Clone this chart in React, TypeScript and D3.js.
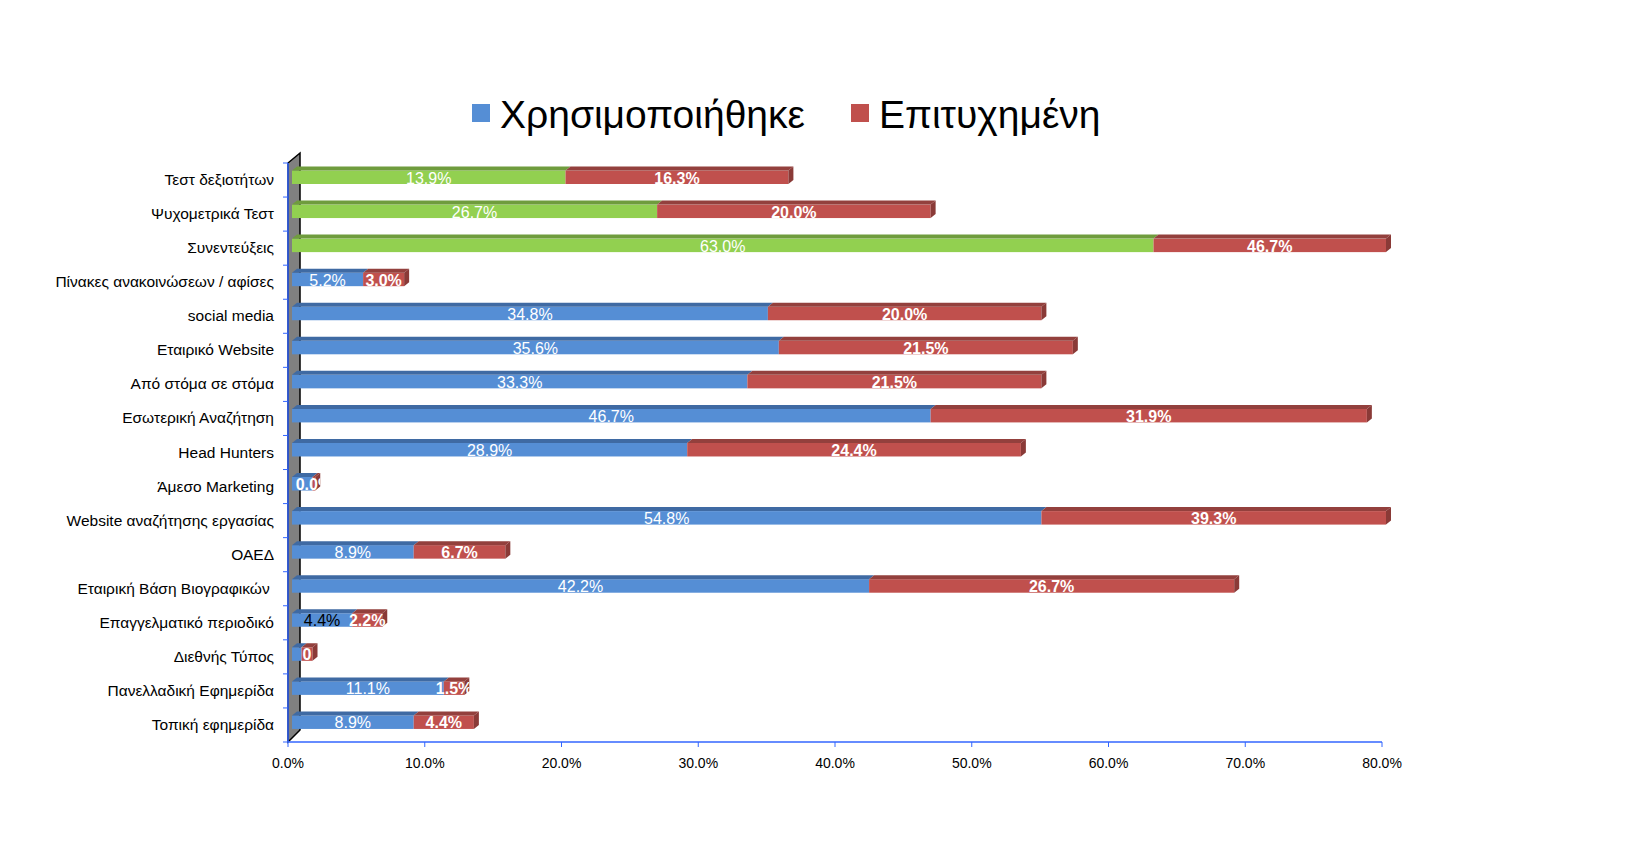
import React from "react";
import * as d3 from "d3";

const width = 1633;
const height = 851;

const categories = [
  "Τεστ δεξιοτήτων",
  "Ψυχομετρικά Τεστ",
  "Συνεντεύξεις",
  "Πίνακες ανακοινώσεων / αφίσες",
  "social media",
  "Εταιρικό Website",
  "Από στόμα σε στόμα",
  "Εσωτερική Αναζήτηση",
  "Head Hunters",
  "Άμεσο Marketing",
  "Website αναζήτησης εργασίας",
  "ΟΑΕΔ",
  "Εταιρική Βάση Βιογραφικών ",
  "Επαγγελματικό περιοδικό",
  "Διεθνής Τύπος",
  "Πανελλαδική Εφημερίδα",
  "Τοπική εφημερίδα",
];

// bar lengths as drawn
const usedValues = [20.0, 26.7, 63.0, 5.2, 34.8, 35.6, 33.3, 46.7, 28.9, 1.5, 54.8, 8.9, 42.2, 4.4, 0.7, 11.1, 8.9];
const successValues = [16.3, 20.0, 46.7, 3.0, 20.0, 21.5, 21.5, 31.9, 24.4, 0.2, 39.3, 6.7, 26.7, 2.2, 0.8, 1.5, 4.4];

// data labels as printed
const usedLabels = ["13.9%", "26.7%", "63.0%", "5.2%", "34.8%", "35.6%", "33.3%", "46.7%", "28.9%", "", "54.8%", "8.9%", "42.2%", "4.4%", "", "11.1%", "8.9%"];
const successLabels = ["16.3%", "20.0%", "46.7%", "3.0%", "20.0%", "21.5%", "21.5%", "31.9%", "24.4%", "0.0%", "39.3%", "6.7%", "26.7%", "2.2%", "0", "1.5%", "4.4%"];

const greenRows = ["Τεστ δεξιοτήτων", "Ψυχομετρικά Τεστ", "Συνεντεύξεις"];
const darkLabelRows = ["Επαγγελματικό περιοδικό"];

const xTicks = [0, 10, 20, 30, 40, 50, 60, 70, 80];
const seriesNames = ["Χρησιμοποιήθηκε", "Επιτυχημένη"];

const colors = {
  blue: { front: "#558ed5", top: "#3f6aa3", side: "#3a5f92" },
  green: { front: "#92d050", top: "#6f9c3d", side: "#5f8a34" },
  red: { front: "#c0504d", top: "#93403d", side: "#8a3a37" },
};

const font = "'Liberation Sans', Arial, sans-serif";
const depthX = 5;
const depthY = 4;
const shift = 4;

const App = () => {
  const xScale = d3.scaleLinear().domain([0, 80]).range([288, 1382]);
  const yScale = d3.scaleBand().domain(categories).range([163, 742]).padding(0);
  const bw = yScale.bandwidth();
  const bx = (v) => xScale(Math.min(v, 80)) + shift;

  const face = (x0, x1, top, bottom, c) => (
    <>
      <rect x={x0} y={top} width={Math.max(0, x1 - x0)} height={bottom - top} fill={c.front} />
      <polygon
        points={`${x0},${top} ${x0 + depthX},${top - depthY} ${x1 + depthX},${top - depthY} ${x1},${top}`}
        fill={c.top}
      />
    </>
  );

  return (
    <svg width={width} height={height} style={{ position: "absolute", left: 0, top: 0 }}>
      <rect width={width} height={height} fill="#fff" />

      {/* legend */}
      <g fontFamily={font} fontSize={39}>
        <rect x={472} y={104} width={18} height={18} fill={colors.blue.front} />
        <text x={500} y={128} fill="#000">{seriesNames[0]}</text>
        <rect x={851} y={104} width={18} height={18} fill={colors.red.front} />
        <text x={879} y={128} fill="#000">{seriesNames[1]}</text>
      </g>

      {/* side wall */}
      <polygon
        points={`${xScale(0)},${yScale.range()[0]} ${xScale(0) + 12},${yScale.range()[0] - 10} ${xScale(0) + 12},${yScale.range()[1] - 12} ${xScale(0)},${yScale.range()[1]}`}
        fill="#808080"
        stroke="#000"
        strokeWidth={1.5}
      />

      {/* x axis */}
      <line x1={xScale(0)} x2={xScale(80)} y1={742} y2={742} stroke="#3366ff" strokeWidth={1.5} />
      {xTicks.map((t) => (
        <g key={t}>
          <line x1={xScale(t)} x2={xScale(t)} y1={742} y2={747} stroke="#3366ff" />
          <text x={xScale(t)} y={768} textAnchor="middle" fontFamily={font} fontSize={14} fill="#000">
            {d3.format(".1f")(t)}%
          </text>
        </g>
      ))}

      {/* y axis */}
      <line x1={xScale(0)} x2={xScale(0)} y1={163} y2={742} stroke="#3366ff" strokeWidth={1.5} />
      {d3.range(categories.length + 1).map((i) => (
        <line key={i} x1={xScale(0) - 5} x2={xScale(0)} y1={163 + i * bw} y2={163 + i * bw} stroke="#3366ff" />
      ))}
      {categories.map((c) => (
        <text
          key={c}
          x={274}
          y={yScale(c) + bw / 2 + 5}
          textAnchor="end"
          fontFamily={font}
          fontSize={15.5}
          fill="#000"
          style={{ whiteSpace: "pre" }}
        >
          {c}
        </text>
      ))}

      <defs>
        {categories.map((c, i) => {
          const top = yScale(c) + 7.5;
          const bottom = yScale(c) + 21;
          const end = bx(usedValues[i] + successValues[i]);
          return (
            <clipPath id={`row-${i}`} key={c}>
              <rect x={bx(0)} y={top} width={end - bx(0) + depthX} height={bottom - top + 0.5} />
            </clipPath>
          );
        })}
      </defs>

      {/* bars */}
      {categories.map((c, i) => {
        const top = yScale(c) + 7.5;
        const bottom = yScale(c) + 21;
        const c1 = greenRows.includes(c) ? colors.green : colors.blue;
        const x0 = bx(0);
        const x1 = bx(usedValues[i]);
        const x2 = bx(usedValues[i] + successValues[i]);
        const dark = darkLabelRows.includes(c);
        return (
          <g key={c}>
            {face(x0, x1, top, bottom, c1)}
            {face(x1, x2, top, bottom, colors.red)}
            <polygon
              points={`${x2},${top} ${x2 + depthX},${top - depthY} ${x2 + depthX},${bottom - depthY} ${x2},${bottom}`}
              fill={colors.red.side}
            />
            <g clipPath={`url(#row-${i})`} fontFamily={font} fontSize={16} textAnchor="middle">
              <text x={(x0 + x1) / 2} y={yScale(c) + 20.5} fill={dark ? "#000" : "#fff"}>
                {usedLabels[i]}
              </text>
              <text x={(x1 + x2) / 2} y={yScale(c) + 20.5} fill="#fff" fontWeight="bold">
                {successLabels[i]}
              </text>
            </g>
          </g>
        );
      })}
    </svg>
  );
};

export default App;
